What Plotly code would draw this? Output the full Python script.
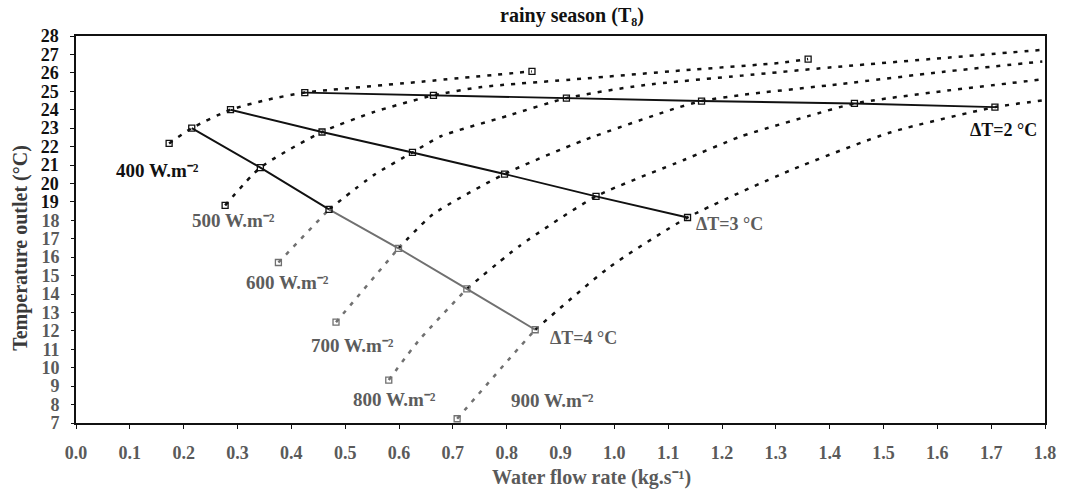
import plotly.graph_objects as go

# ---------------- data ----------------
# irradiance curves: water flow rate (kg/s) -> outlet temperature (°C)
g400_x = [0.173, 0.215, 0.287, 0.357, 0.425, 0.630, 0.847]
g400_y = [22.17, 23.00, 24.00, 24.55, 24.93, 25.49, 26.08]

g500_x = [0.277, 0.3425, 0.457, 0.554, 0.664, 0.753, 0.939, 1.125, 1.311, 1.360]
g500_y = [18.81, 20.86, 22.79, 23.88, 24.78, 25.23, 25.68, 26.13, 26.55, 26.75]

g600_x = [0.376, 0.470, 0.553, 0.625, 0.678, 0.802, 0.911, 1.051, 1.237, 1.423, 1.609, 1.795]
g600_y = [15.71, 18.59, 20.45, 21.68, 22.56, 23.67, 24.63, 25.32, 25.85, 26.35, 26.80, 27.25]

g700_x = [0.483, 0.599, 0.663, 0.796, 0.943, 1.111, 1.162, 1.236, 1.422, 1.609, 1.795]
g700_y = [12.47, 16.48, 18.32, 20.51, 22.34, 24.05, 24.47, 24.80, 25.40, 26.05, 26.62]

g800_x = [0.581, 0.636, 0.726, 0.824, 0.966, 1.129, 1.235, 1.360, 1.446, 1.608, 1.794]
g800_y = [9.33, 11.45, 14.28, 16.61, 19.30, 21.27, 22.55, 23.65, 24.34, 25.00, 25.64]

g900_x = [0.708, 0.821, 0.853, 0.9906, 1.136, 1.327, 1.514, 1.707, 1.794]
g900_y = [7.23, 11.02, 12.06, 15.45, 18.15, 20.71, 22.78, 24.14, 24.50]

# constant temperature-rise lines (points where they cross the curves)
dt2_x = [0.425, 0.664, 0.911, 1.162, 1.446, 1.707]
dt2_y = [24.93, 24.78, 24.63, 24.47, 24.34, 24.14]
dt3_x = [0.287, 0.457, 0.625, 0.796, 0.966, 1.136]
dt3_y = [24.00, 22.79, 21.68, 20.51, 19.30, 18.15]
dt4_x = [0.215, 0.3425, 0.470, 0.599, 0.726, 0.853]
dt4_y = [23.00, 20.86, 18.59, 16.48, 14.28, 12.06]

curve_names = ["400", "500", "600", "700", "800", "900"]
dt_names = ["2", "3", "4"]

x_ticks = [i / 10 for i in range(0, 19)]
x_tick_labels = [f"{v:.1f}" for v in x_ticks]
y_ticks = list(range(7, 29))

# ---------------- styling ----------------
FONT = "Liberation Serif"
BLACK = "#111111"
GRAY = "#707070"
LGRAY = "#5c5c5c"
DOT = "4px,7px"

fig = go.Figure()


def add_line(x, y, color, dash, width, k0=0, k1=None, shape="spline"):
    fig.add_trace(go.Scatter(
        x=x[k0:k1], y=y[k0:k1], mode="lines",
        line=dict(color=color, width=width, dash=dash, shape=shape, smoothing=0.6),
        hoverinfo="skip", showlegend=False))


def add_markers(x, y, color):
    fig.add_trace(go.Scatter(
        x=x, y=y, mode="markers",
        marker=dict(symbol="square-open", size=6, color=color, line=dict(width=1.3, color=color)),
        hoverinfo="skip", showlegend=False))


# irradiance curves (dotted); (x, y, gray-until-index, has visible end marker)
curves = [
    (g400_x, g400_y, 0, True),
    (g500_x, g500_y, 0, True),
    (g600_x, g600_y, 1, False),
    (g700_x, g700_y, 1, False),
    (g800_x, g800_y, 2, False),
    (g900_x, g900_y, 2, False),
]
for x, y, gi, has_end in curves:
    if gi > 0:
        add_line(x, y, GRAY, DOT, 2.5, 0, gi + 1)
    add_line(x, y, BLACK, DOT, 2.5, gi, None)
    mx = [x[0]] + ([x[-1]] if has_end else [])
    my = [y[0]] + ([y[-1]] if has_end else [])
    add_markers(mx, my, GRAY if gi > 0 else BLACK)

# temperature-rise lines (solid)
add_line(dt2_x, dt2_y, BLACK, "solid", 1.9, shape="linear")
add_markers(dt2_x, dt2_y, BLACK)
add_line(dt3_x, dt3_y, BLACK, "solid", 1.9, shape="linear")
add_markers(dt3_x, dt3_y, BLACK)
add_line(dt4_x, dt4_y, BLACK, "solid", 1.9, 0, 3, shape="linear")
add_line(dt4_x, dt4_y, GRAY, "solid", 1.9, 2, None, shape="linear")
add_markers(dt4_x[:3], dt4_y[:3], BLACK)
add_markers(dt4_x[3:], dt4_y[3:], GRAY)

# empty trace so the second (gray-label) y axis is registered
fig.add_trace(go.Scatter(x=[None], y=[None], yaxis="y2", mode="markers",
                         hoverinfo="skip", showlegend=False))

# ---------------- labels ----------------
curve_label_pos = [(0.151, 20.7), (0.293, 18.0), (0.392, 14.6), (0.513, 11.2), (0.592, 8.26), (0.885, 8.2)]
curve_label_col = [BLACK, LGRAY, LGRAY, LGRAY, LGRAY, LGRAY]
for name, (lx, ly), col in zip(curve_names, curve_label_pos, curve_label_col):
    fig.add_annotation(x=lx, y=ly, xref="x", yref="y", text=f"{name} W.m⁻²",
                       showarrow=False, font=dict(family=FONT, size=19, weight="bold", color=col),
                       xanchor="center", yanchor="middle")

dt_label_pos = [(1.722, 22.9), (1.213, 17.8), (0.942, 11.6)]
dt_label_col = [BLACK, LGRAY, LGRAY]
for name, (lx, ly), col in zip(dt_names, dt_label_pos, dt_label_col):
    fig.add_annotation(x=lx, y=ly, xref="x", yref="y", text=f"ΔT={name} °C",
                       showarrow=False, font=dict(family=FONT, size=18, weight="bold", color=col),
                       xanchor="center", yanchor="middle")

# axis titles
fig.add_annotation(x=-0.058, y=0.452, xref="paper", yref="paper", textangle=-90,
                   text="Temperature outlet (°C)",
                   showarrow=False, font=dict(family=FONT, size=20, weight="bold", color="#3a3a3a"),
                   xanchor="center", yanchor="middle")
fig.add_annotation(x=0.5325, y=-0.14, xref="paper", yref="paper",
                   text="Water flow rate (kg.s⁻¹)",
                   showarrow=False, font=dict(family=FONT, size=20, weight="bold", color="#5a5a5a"),
                   xanchor="center", yanchor="middle")

y_ticks_dark = [v for v in y_ticks if v > 18]
y_ticks_light = [v for v in y_ticks if v <= 18]

fig.update_layout(
    width=1069, height=491,
    margin=dict(l=76, r=24, t=36, b=68),
    paper_bgcolor="white", plot_bgcolor="white",
    showlegend=False, hovermode=False,
    title=dict(text="rainy season (T₈)", x=572 / 1069, xanchor="center",
               y=1 - 15 / 491, yanchor="middle",
               font=dict(family=FONT, size=20, weight="bold", color=BLACK)),
    xaxis=dict(range=[0, 1.8], tickvals=x_ticks, ticktext=x_tick_labels,
               showgrid=False, zeroline=False, showline=True, linecolor=BLACK, linewidth=1.5,
               mirror=True, ticks="outside", ticklen=4, tickcolor=BLACK, tickwidth=1,
               ticklabelstandoff=9,
               tickfont=dict(family=FONT, size=18, weight="bold", color="#5a5a5a")),
    yaxis=dict(range=[7, 28], tickvals=y_ticks_dark, ticktext=[str(v) for v in y_ticks_dark],
               showgrid=False, zeroline=False, showline=True, linecolor=BLACK, linewidth=1.5,
               mirror=True, ticks="outside", ticklen=4, tickcolor=BLACK, tickwidth=1,
               ticklabelstandoff=8,
               tickfont=dict(family=FONT, size=18, weight="bold", color=BLACK)),
    yaxis2=dict(range=[7, 28], overlaying="y", side="left", anchor="x",
                tickvals=y_ticks_light, ticktext=[str(v) for v in y_ticks_light],
                showgrid=False, zeroline=False, showline=False,
                ticks="outside", ticklen=4, tickcolor=BLACK, tickwidth=1,
                ticklabelstandoff=8,
                tickfont=dict(family=FONT, size=18, weight="bold", color="#5a5a5a")),
)

fig.write_html("out.html")
